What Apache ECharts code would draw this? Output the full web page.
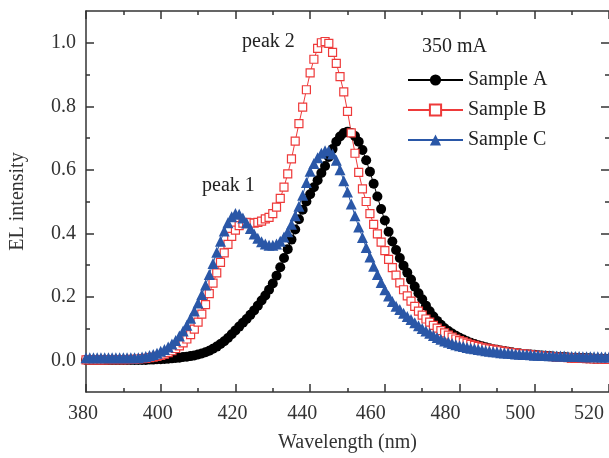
<!DOCTYPE html>
<html><head><meta charset="utf-8">
<script src="https://cdn.jsdelivr.net/npm/echarts@6/dist/echarts.min.js"></script>
<style>html,body{margin:0;padding:0;background:#fff}#c{width:609px;height:458px}</style>
</head><body><div id="c"></div>
<script>
// sampling grid of the spectra (nm)
const wlStart = 380;
const wlStep = 1;

// Sample A, 380..520 nm
const sampleA = [
0.001,0.001,0.001,0.001,0.001,0.001,0.001,0.001,0.001,0.001,
0.001,0.001,0.001,0.001,0.001,0.001,0.001,0.002,0.002,0.003,
0.003,0.004,0.005,0.006,0.007,0.008,0.010,0.011,0.013,0.015,
0.018,0.021,0.025,0.030,0.036,0.043,0.051,0.060,0.070,0.082,
0.094,0.106,0.118,0.130,0.143,0.157,0.172,0.188,0.204,0.222,
0.242,0.266,0.293,0.322,0.350,0.380,0.412,0.444,0.474,0.500,
0.523,0.545,0.567,0.590,0.612,0.640,0.665,0.688,0.705,0.716,
0.720,0.716,0.706,0.688,0.662,0.630,0.594,0.556,0.516,0.476,
0.440,0.405,0.374,0.347,0.322,0.298,0.276,0.254,0.232,0.211,
0.192,0.172,0.154,0.138,0.124,0.112,0.101,0.092,0.084,0.077,
0.071,0.065,0.060,0.055,0.051,0.047,0.044,0.041,0.038,0.035,
0.033,0.031,0.029,0.027,0.025,0.023,0.022,0.020,0.019,0.018,
0.017,0.016,0.015,0.014,0.013,0.012,0.011,0.010,0.010,0.009,
0.008,0.008,0.007,0.007,0.006,0.006,0.005,0.005,0.005,0.004,
0.004];

// Sample B, 380..520 nm
const sampleB = [
0.001,0.001,0.001,0.001,0.001,0.001,0.002,0.002,0.002,0.002,
0.002,0.002,0.003,0.003,0.004,0.005,0.006,0.008,0.010,0.012,
0.015,0.019,0.024,0.030,0.037,0.045,0.055,0.067,0.081,0.098,
0.120,0.145,0.175,0.210,0.243,0.275,0.308,0.338,0.365,0.390,
0.410,0.424,0.432,0.434,0.433,0.432,0.434,0.438,0.445,0.450,
0.462,0.482,0.510,0.545,0.587,0.634,0.690,0.745,0.797,0.852,
0.905,0.948,0.982,1.000,1.004,0.998,0.970,0.935,0.893,0.845,
0.784,0.716,0.652,0.592,0.540,0.500,0.462,0.428,0.398,0.372,
0.345,0.318,0.292,0.268,0.244,0.222,0.203,0.186,0.170,0.155,
0.142,0.130,0.120,0.110,0.101,0.093,0.086,0.079,0.073,0.067,
0.062,0.058,0.054,0.050,0.047,0.044,0.041,0.038,0.036,0.034,
0.032,0.030,0.028,0.026,0.024,0.023,0.021,0.020,0.019,0.018,
0.016,0.015,0.014,0.013,0.012,0.011,0.010,0.009,0.009,0.008,
0.007,0.007,0.006,0.006,0.005,0.005,0.004,0.004,0.004,0.003,
0.003];

// Sample C, 380..520 nm
const sampleC = [
0.008,0.008,0.008,0.008,0.008,0.008,0.008,0.008,0.008,0.008,
0.008,0.008,0.008,0.008,0.008,0.010,0.012,0.015,0.018,0.022,
0.028,0.034,0.042,0.051,0.062,0.076,0.092,0.110,0.132,0.155,
0.180,0.207,0.237,0.270,0.305,0.340,0.375,0.407,0.433,0.452,
0.462,0.460,0.448,0.432,0.415,0.398,0.384,0.373,0.366,0.362,
0.362,0.366,0.375,0.388,0.405,0.428,0.455,0.485,0.520,0.560,
0.595,0.620,0.638,0.652,0.660,0.660,0.650,0.630,0.600,0.565,
0.530,0.492,0.455,0.420,0.387,0.355,0.325,0.296,0.270,0.245,
0.222,0.202,0.185,0.170,0.160,0.148,0.138,0.128,0.118,0.109,
0.100,0.092,0.085,0.078,0.072,0.066,0.061,0.057,0.053,0.049,
0.046,0.043,0.040,0.038,0.036,0.034,0.032,0.030,0.028,0.027,
0.026,0.024,0.023,0.022,0.021,0.020,0.019,0.018,0.018,0.017,
0.016,0.016,0.015,0.015,0.014,0.014,0.013,0.013,0.013,0.012,
0.012,0.012,0.012,0.011,0.011,0.011,0.011,0.011,0.010,0.010,
0.010];

const seriesNames = ['Sample A', 'Sample B', 'Sample C'];
const yTickValues = [0, 0.2, 0.4, 0.6, 0.8, 1.0];
const yMinorValues = [0.1, 0.3, 0.5, 0.7, 0.9];
const annotations = ['peak 1', 'peak 2', '350 mA'];

function pairs(arr) { return arr.map((v, i) => [wlStart + i * wlStep, v]); }

const FONT = '"Liberation Serif", "Times New Roman", serif';
const AX = '#333';
const RED = '#ee3a3a';
const BLUE = '#2a57a7';

// label nudges (px to the left), imitating the reference's label placement
const labelShift = {380: 3, 400: 3, 420: 3, 440: 8, 460: 14, 480: 14, 500: 14, 520: 20};
const rich = {};
Object.keys(labelShift).forEach(k => {
  rich['s' + k] = {fontSize: 20, fontFamily: FONT, color: AX, padding: [0, labelShift[k] * 2, 0, 0]};
});

const tickStyle = {color: AX, width: 1.5};
const axLine = {show: true, onZero: false, lineStyle: {color: AX, width: 1.5}};
const noLine = {show: false, onZero: false};
const xBase = {type: 'value', min: 380, max: 520, interval: 20, splitLine: {show: false}};
const yBase = {type: 'value', min: -0.1, max: 1.1, splitLine: {show: false}};

const chart = echarts.init(document.getElementById('c'), null, {renderer: 'canvas'});
chart.setOption({
  animation: false,
  backgroundColor: '#fff',
  grid: {left: 86, right: -1, top: 11, bottom: 64},
  xAxis: [
    Object.assign({}, xBase, {
      position: 'bottom',
      name: 'Wavelength (nm)', nameLocation: 'middle', nameGap: 41,
      nameTextStyle: {fontSize: 20, fontFamily: FONT, color: AX},
      axisLine: axLine,
      axisTick: {show: true, inside: true, length: 8, lineStyle: tickStyle},
      minorTick: {show: true, splitNumber: 2, length: 4, lineStyle: tickStyle},
      axisLabel: {
        show: true, margin: 12, showMinLabel: true, showMaxLabel: true,
        fontSize: 20, fontFamily: FONT, color: AX, rich: rich,
        formatter: v => '{s' + v + '|' + v + '}'
      }
    }),
    Object.assign({}, xBase, {
      position: 'top',
      axisLine: axLine,
      axisTick: {show: true, inside: true, length: 8, lineStyle: tickStyle},
      minorTick: {show: true, splitNumber: 2, length: 4, lineStyle: tickStyle},
      axisLabel: {show: false}
    })
  ],
  yAxis: [
    Object.assign({}, yBase, {
      position: 'left',
      name: 'EL intensity', nameLocation: 'middle', nameGap: 58, nameRotate: 90,
      nameTextStyle: {fontSize: 20, fontFamily: FONT, color: AX},
      axisLine: axLine,
      axisTick: {show: true, inside: true, length: 8, customValues: yTickValues, lineStyle: tickStyle},
      axisLabel: {show: true, margin: 10, customValues: yTickValues, fontSize: 20, fontFamily: FONT, color: AX,
        formatter: v => Number(v).toFixed(1)}
    }),
    Object.assign({}, yBase, {
      position: 'left',
      axisLine: noLine,
      axisTick: {show: true, inside: true, length: 4, customValues: yMinorValues, lineStyle: tickStyle},
      axisLabel: {show: false}
    }),
    Object.assign({}, yBase, {
      position: 'right',
      axisLine: noLine,
      axisTick: {show: true, inside: true, length: 8, customValues: yTickValues, lineStyle: tickStyle},
      axisLabel: {show: false}
    }),
    Object.assign({}, yBase, {
      position: 'right',
      axisLine: noLine,
      axisTick: {show: true, inside: true, length: 4, customValues: yMinorValues, lineStyle: tickStyle},
      axisLabel: {show: false}
    })
  ],
  legend: {
    data: seriesNames,
    orient: 'vertical', left: 407, top: 70, padding: 0,
    itemWidth: 55, itemHeight: 14, itemGap: 10,
    textStyle: {fontSize: 20, fontFamily: FONT, color: '#222', lineHeight: 20}
  },
  graphic: [
    {type: 'text', x: 202, y: 186, style: {text: annotations[0], fontSize: 20, fontFamily: FONT, fill: '#222', verticalAlign: 'middle'}},
    {type: 'text', x: 242, y: 42, style: {text: annotations[1], fontSize: 20, fontFamily: FONT, fill: '#222', verticalAlign: 'middle'}},
    {type: 'text', x: 422, y: 47, style: {text: annotations[2], fontSize: 20, fontFamily: FONT, fill: '#222', verticalAlign: 'middle'}}
  ],
  series: [
    {
      name: seriesNames[0], type: 'line', data: pairs(sampleA),
      symbol: 'circle', symbolSize: 10, showAllSymbol: true,
      itemStyle: {color: '#000'}, lineStyle: {color: '#000', width: 1}
    },
    {
      name: seriesNames[1], type: 'line', data: pairs(sampleB),
      symbol: 'rect', symbolSize: 8, showAllSymbol: true,
      itemStyle: {color: '#fff', borderColor: RED, borderWidth: 1.2}, lineStyle: {color: RED, width: 1}
    },
    {
      name: seriesNames[2], type: 'line', data: pairs(sampleC),
      symbol: 'triangle', symbolSize: 11, showAllSymbol: true,
      itemStyle: {color: BLUE}, lineStyle: {color: BLUE, width: 1}
    }
  ]
});
</script>
</body></html>
